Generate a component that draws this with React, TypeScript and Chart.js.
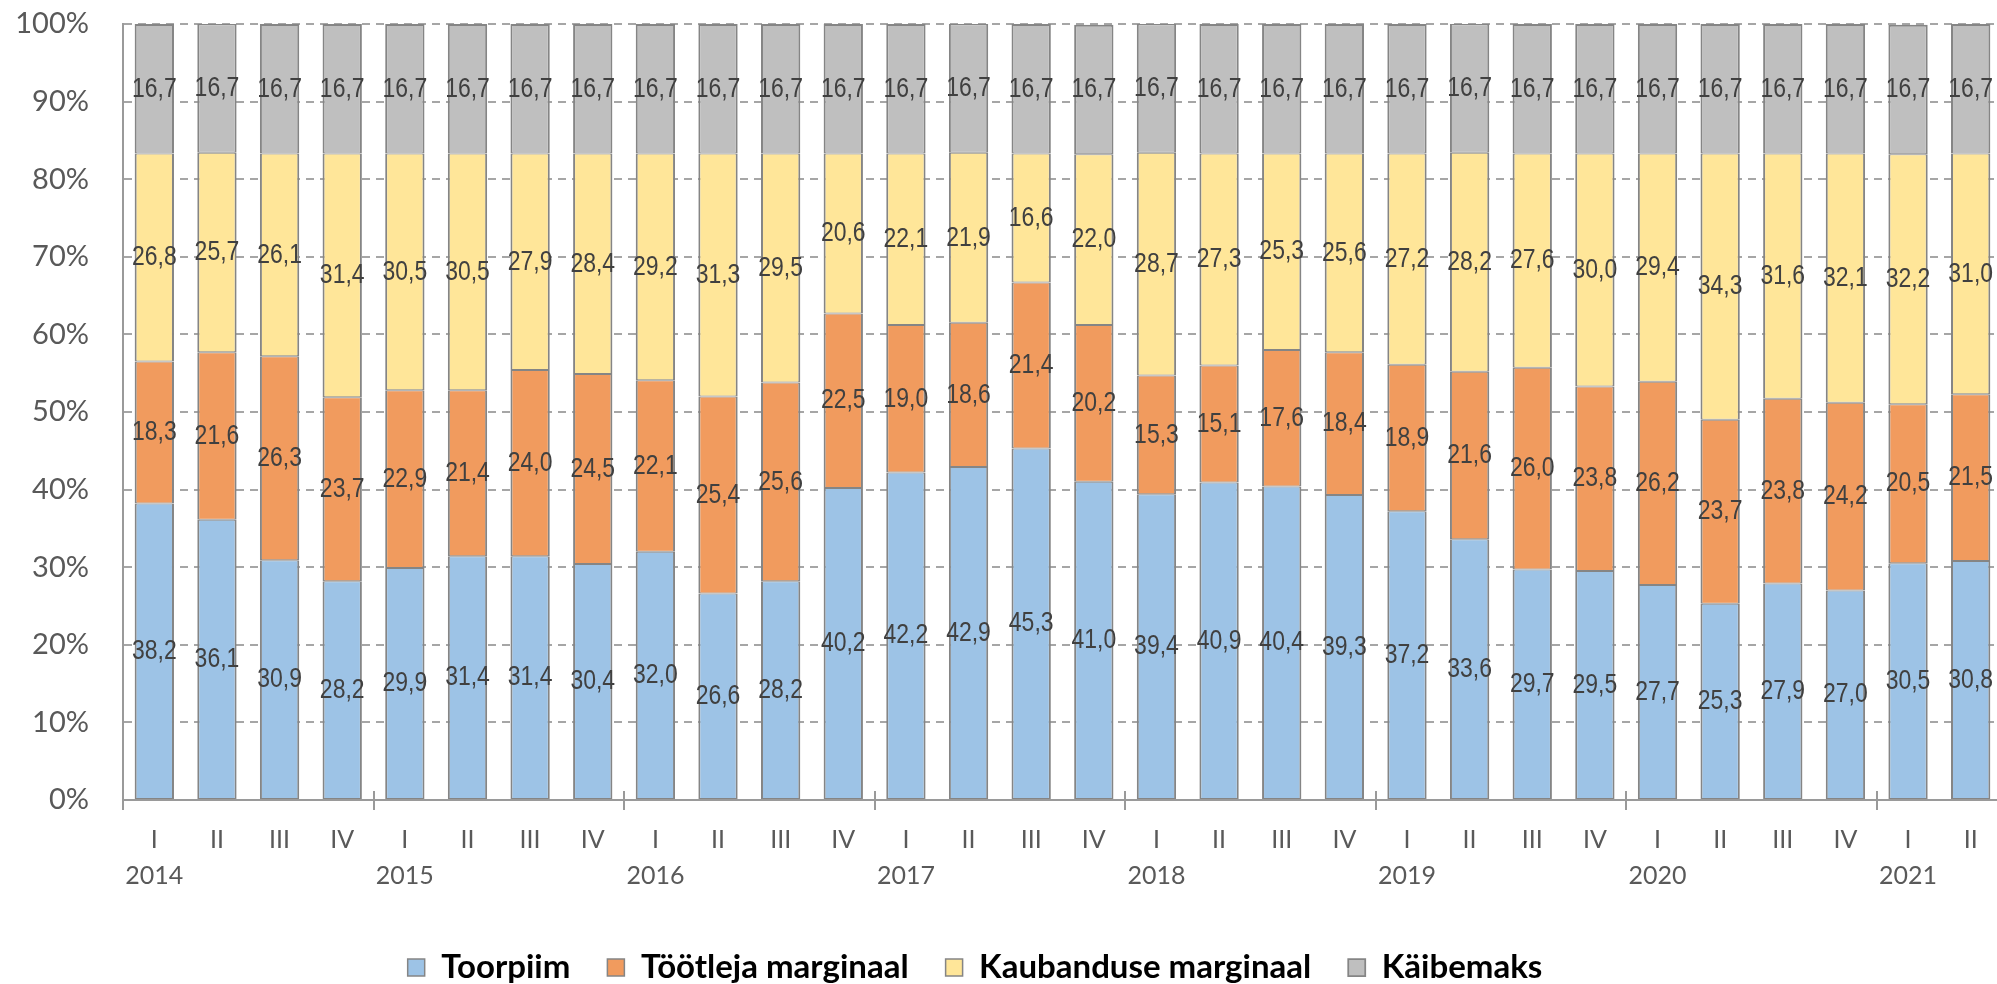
import React, { useEffect, useRef } from "react";
import { Chart, registerables } from "chart.js";

Chart.register(...registerables);

const quarterLabels = [
  "I", "II", "III", "IV", "I", "II", "III", "IV", "I", "II", "III", "IV",
  "I", "II", "III", "IV", "I", "II", "III", "IV", "I", "II", "III", "IV",
  "I", "II", "III", "IV", "I", "II",
];
const yearLabels = [
  "2014", "", "", "", "2015", "", "", "", "2016", "", "", "", "2017", "", "", "",
  "2018", "", "", "", "2019", "", "", "", "2020", "", "", "", "2021", "",
];

const toorpiim = [
  38.2, 36.1, 30.9, 28.2, 29.9, 31.4, 31.4, 30.4, 32.0, 26.6, 28.2, 40.2,
  42.2, 42.9, 45.3, 41.0, 39.4, 40.9, 40.4, 39.3, 37.2, 33.6, 29.7, 29.5,
  27.7, 25.3, 27.9, 27.0, 30.5, 30.8,
];
const tootleja = [
  18.3, 21.6, 26.3, 23.7, 22.9, 21.4, 24.0, 24.5, 22.1, 25.4, 25.6, 22.5,
  19.0, 18.6, 21.4, 20.2, 15.3, 15.1, 17.6, 18.4, 18.9, 21.6, 26.0, 23.8,
  26.2, 23.7, 23.8, 24.2, 20.5, 21.5,
];
const kaubandus = [
  26.8, 25.7, 26.1, 31.4, 30.5, 30.5, 27.9, 28.4, 29.2, 31.3, 29.5, 20.6,
  22.1, 21.9, 16.6, 22.0, 28.7, 27.3, 25.3, 25.6, 27.2, 28.2, 27.6, 30.0,
  29.4, 34.3, 31.6, 32.1, 32.2, 31.0,
];
const kaibemaks = [
  16.7, 16.7, 16.7, 16.7, 16.7, 16.7, 16.7, 16.7, 16.7, 16.7, 16.7, 16.7,
  16.7, 16.7, 16.7, 16.7, 16.7, 16.7, 16.7, 16.7, 16.7, 16.7, 16.7, 16.7,
  16.7, 16.7, 16.7, 16.7, 16.7, 16.7,
];

const seriesNames = ["Toorpiim", "Töötleja marginaal", "Kaubanduse marginaal", "Käibemaks"];
const seriesColors = ["#9DC3E6", "#F19B5E", "#FFE699", "#BFBFBF"];

const yTicks = [0, 10, 20, 30, 40, 50, 60, 70, 80, 90, 100];

const CANVAS_W = 2004;
const CANVAS_H = 984;

const valueLabels = {
  id: "valueLabels",
  afterDatasetsDraw(chart: any) {
    const ctx = chart.ctx;
    ctx.save();
    ctx.font = '28px "Liberation Sans", Arial, sans-serif';
    ctx.fillStyle = "#404040";
    ctx.textAlign = "center";
    ctx.textBaseline = "middle";
    chart.data.datasets.forEach((ds: any, di: number) => {
      const meta = chart.getDatasetMeta(di);
      meta.data.forEach((el: any, i: number) => {
        const v = ds.data[i];
        const p = el.getCenterPoint();
        ctx.save();
        ctx.translate(p.x, p.y);
        ctx.scale(0.82, 1);
        ctx.fillText(v.toFixed(1).replace(".", ","), 0, 0);
        ctx.restore();
      });
    });
    ctx.restore();
  },
};

const yearTicks = {
  id: "yearTicks",
  afterDraw(chart: any) {
    const ctx = chart.ctx;
    const xs = chart.scales.x;
    const area = chart.chartArea;
    const step = xs.getPixelForValue(1) - xs.getPixelForValue(0);
    ctx.save();
    ctx.strokeStyle = "#9a9a9a";
    ctx.lineWidth = 2;
    for (let i = 0; i <= quarterLabels.length; i += 4) {
      const x = Math.round(xs.getPixelForValue(i) - step / 2);
      ctx.beginPath();
      ctx.moveTo(x, area.bottom - 9);
      ctx.lineTo(x, area.bottom + 10);
      ctx.stroke();
    }
    ctx.restore();
  },
};

const legendShift = {
  id: "legendShift",
  afterLayout(chart: any) {
    const lg = chart.legend;
    if (!lg) return;
    lg.left -= 26;
    lg.right -= 26;
    lg.top += 14;
    lg.bottom += 14;
  },
};

export default function App() {
  const ref = useRef<HTMLCanvasElement | null>(null);

  useEffect(() => {
    if (!ref.current) return;
    const datasets = [toorpiim, tootleja, kaubandus, kaibemaks].map((d, i) => ({
      label: seriesNames[i],
      data: d,
      backgroundColor: seriesColors[i],
      borderColor: "#858585",
      borderWidth: { top: i === 3 ? 2 : 1, bottom: 1, left: 2, right: 2 },
      borderSkipped: false,
      barPercentage: 0.628,
      categoryPercentage: 1,
    }));
    const chart = new Chart(ref.current, {
      type: "bar",
      data: {
        labels: quarterLabels.map((q, i) => [q, yearLabels[i]]),
        datasets,
      },
      options: {
        animation: false,
        responsive: false,
        devicePixelRatio: 1,
        layout: { padding: { left: 0, right: 2, top: 24, bottom: 4 } },
        plugins: {
          tooltip: { enabled: false },
          legend: {
            position: "bottom",
            labels: {
              boxWidth: 17,
              boxHeight: 17,
              padding: 37,
              color: "#000000",
              font: { family: "Lato", size: 33, weight: "bold" },
            },
          },
        },
        scales: {
          x: {
            stacked: true,
            grid: { display: false, drawTicks: false },
            border: { display: true, color: "#9a9a9a", width: 2 },
            ticks: {
              color: "#595959",
              font: { family: "Lato", size: 25, lineHeight: 1.45 },
              padding: 22,
              maxRotation: 0,
              autoSkip: false,
            },
            afterFit(scale: any) {
              scale.height = 100;
            },
          },
          y: {
            stacked: true,
            min: 0,
            max: 100,
            afterBuildTicks(scale: any) {
              scale.ticks = yTicks.map((v) => ({ value: v }));
            },
            grid: {
              color: "#a6a6a6",
              lineWidth: 2,
              drawTicks: false,
            },
            border: { display: true, color: "#9a9a9a", width: 2, dash: [8, 6] },
            ticks: {
              color: "#595959",
              font: { family: "Lato", size: 29 },
              padding: 34,
              callback: (v: any) => v + "%",
            },
            afterFit(scale: any) {
              scale.width = 123;
              scale.paddingTop = 0;
              scale.paddingBottom = 0;
            },
          },
        },
      },
      plugins: [valueLabels, yearTicks, legendShift],
    });
    return () => chart.destroy();
  }, []);

  return (
    <div style={{ position: "fixed", left: 0, top: 0, width: CANVAS_W, height: CANVAS_H, background: "#fff" }}>
      <canvas ref={ref} width={CANVAS_W} height={CANVAS_H} />
    </div>
  );
}
